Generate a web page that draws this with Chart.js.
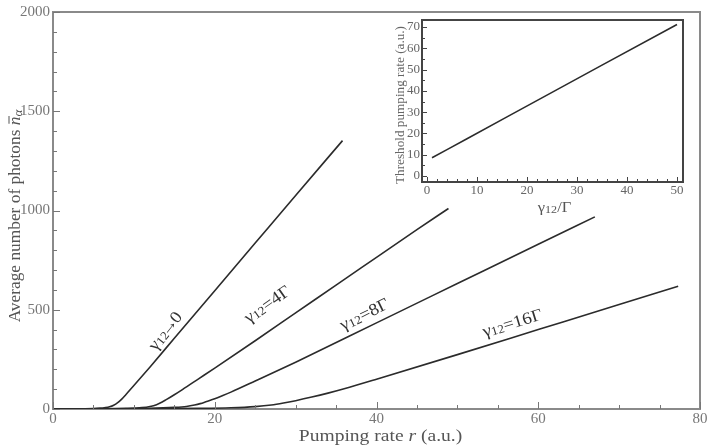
<!DOCTYPE html>
<html><head><meta charset="utf-8">
<script src="https://cdn.jsdelivr.net/npm/chart.js@4.4.1/dist/chart.umd.min.js"></script>
<style>
html,body{margin:0;padding:0;background:#fff;}
#wrap{position:relative;width:710px;height:447px;overflow:hidden;}
#main{position:absolute;left:0;top:0;}
#inset{position:absolute;left:380px;top:10px;}
</style></head><body>
<div id="wrap"><canvas id="main" width="710" height="447"></canvas><canvas id="inset" width="320" height="215"></canvas></div>
<script>
// ---------- data ----------
const rateA    = [0, 3, 5, 6, 6.5, 7, 7.5, 8, 8.5, 9, 10, 12, 15, 20, 25, 30, 35.8];
const photonsA = [0, 1, 2, 5, 7, 11, 19, 32, 50, 72, 118, 212, 356, 596, 836, 1076, 1352];

const rateB    = [0, 5, 9, 11, 12, 12.8, 13.5, 14, 15, 16, 18, 20, 25, 30, 35, 40, 45, 48.9];
const photonsB = [0, 1, 3, 7, 13, 22, 35, 47, 72, 98, 152, 206, 344, 484, 624, 764, 904, 1010];

const rateC    = [0, 8, 12, 15, 16.5, 17.5, 18.2, 19, 20, 21, 22, 25, 30, 40, 50, 60, 67];
const photonsC = [0, 1, 3, 8, 13, 20, 27, 38, 52, 68, 85, 141, 236, 434, 632, 830, 968];

const rateD    = [0, 10, 18, 22, 25, 27, 28.5, 30, 32, 34, 36, 40, 50, 60, 70, 77.3];
const photonsD = [0, 1, 3, 6, 12, 20, 30, 42, 60, 80, 102, 150, 274, 400, 526, 618];

const insetGamma     = [1, 4, 8, 16, 25, 35, 50];
const insetThreshold = [8.6, 12.4, 17.5, 27.8, 39.3, 52.1, 71.2];

const xTicksMain  = [0, 20, 40, 60, 80];
const yTicksMain  = [0, 500, 1000, 1500, 2000];
const xTicksInset = [0, 10, 20, 30, 40, 50];
const yTicksInset = [0, 10, 20, 30, 40, 50, 60, 70];

// curve labels: [suffix pieces after γ12, anchor rate, anchor photons, angle in degrees]
const curveLabels = [
  [['→', '0'], 13.9, 392, 52],
  [['=4Γ'], 26.5, 527, 35],
  [['=8Γ'], 38.5, 476, 26],
  [['=16Γ'], 56.8, 432, 17]
];

const SERIF = '"Liberation Serif", "Times New Roman", serif';
const toXY = (xs, ys) => xs.map((x, i) => ({x, y: ys[i]}));

function drawRich(ctx, parts, cx, cy, angleRad, stretch, color, base) {
  ctx.save();
  ctx.translate(cx, cy);
  ctx.rotate(angleRad);
  ctx.scale(stretch, 1);
  ctx.fillStyle = color; ctx.strokeStyle = color;
  ctx.textBaseline = 'alphabetic'; ctx.textAlign = 'left';
  let total = 0;
  parts.forEach(p => {
    ctx.font = p.font;
    const m = ctx.measureText(p.t);
    p.w = p.tight ? (m.actualBoundingBoxRight + m.actualBoundingBoxLeft + 1) : m.width;
    p.off = p.tight ? m.actualBoundingBoxLeft : 0;
    total += p.w;
  });
  let x = -total / 2;
  parts.forEach(p => {
    ctx.font = p.font;
    ctx.fillText(p.t, x + p.off, base + (p.dy || 0));
    if (p.bar) {
      ctx.lineWidth = 1;
      ctx.beginPath(); ctx.moveTo(x + 1.5, base - p.bar); ctx.lineTo(x + p.w + 0.5, base - p.bar); ctx.stroke();
    }
    x += p.w;
  });
  ctx.restore();
}

const fixedTicks = (arr) => (scale) => { scale.ticks = arr.map(v => ({value: v})); };
const plainLabel = v => String(v);

// ---------- main chart ----------
const mainDecor = {
  id: 'mainDecor',
  afterDraw(chart) {
    const ctx = chart.ctx, a = chart.chartArea, xs = chart.scales.x, ys = chart.scales.y;
    ctx.save();
    ctx.strokeStyle = '#8a8a8a'; ctx.lineWidth = 2;
    ctx.beginPath();
    ctx.moveTo(a.left, a.top); ctx.lineTo(a.right, a.top); ctx.lineTo(a.right, a.bottom);
    ctx.stroke();
    ctx.lineWidth = 1; ctx.strokeStyle = '#777';
    ctx.beginPath();
    for (let v = 0; v <= 80; v += 5) {
      const px = Math.round(xs.getPixelForValue(v)) + 0.5;
      const len = v % 20 === 0 ? 7 : 4;
      ctx.moveTo(px, a.bottom); ctx.lineTo(px, a.bottom - len);
    }
    for (let v = 0; v <= 2000; v += 100) {
      const py = Math.round(ys.getPixelForValue(v)) + 0.5;
      const len = v % 500 === 0 ? 7 : 4;
      ctx.moveTo(a.left, py); ctx.lineTo(a.left + len, py);
    }
    ctx.stroke();
    ctx.restore();

    // axis titles
    drawRich(ctx, [
      {t: 'Pumping rate ', font: '17px ' + SERIF},
      {t: 'r', font: 'italic 17px ' + SERIF},
      {t: ' (a.u.)', font: '17px ' + SERIF}
    ], (a.left + a.right) / 2 + 4, 436, 0, 1.15, '#555', 5);
    drawRich(ctx, [
      {t: 'Average number of photons ', font: '17px ' + SERIF},
      {t: 'n', font: 'italic 17px ' + SERIF, bar: 11},
      {t: 'α', font: 'italic 13px ' + SERIF, dy: 2}
    ], 15, 216, -Math.PI / 2, 1.02, '#555', 5);

    // curve labels
    curveLabels.forEach(([suffix, rx, ry, deg]) => {
      const parts = [
        {t: 'γ', font: '17px ' + SERIF},
        {t: '12', font: '12px ' + SERIF, dy: 1}
      ];
      suffix.forEach(s => parts.push({t: s, font: '17px ' + SERIF, tight: s === '→'}));
      drawRich(ctx, parts, xs.getPixelForValue(rx), ys.getPixelForValue(ry), -deg * Math.PI / 180, 1.1, '#333', 5);
    });
  }
};

new Chart(document.getElementById('main'), {
  type: 'line',
  data: {
    datasets: [
      {label: 'γ12→0',  data: toXY(rateA, photonsA)},
      {label: 'γ12=4Γ', data: toXY(rateB, photonsB)},
      {label: 'γ12=8Γ', data: toXY(rateC, photonsC)},
      {label: 'γ12=16Γ', data: toXY(rateD, photonsD)}
    ].map(d => Object.assign(d, {borderColor: '#2b2b2b', borderWidth: 1.6, pointRadius: 0,
      cubicInterpolationMode: 'monotone', fill: false}))
  },
  options: {
    responsive: false, animation: false, devicePixelRatio: 1,
    layout: {padding: {top: 8, right: 10, left: 0, bottom: 0}},
    plugins: {legend: {display: false}, tooltip: {enabled: false}},
    scales: {
      x: {
        type: 'linear', min: 0, max: 80,
        afterBuildTicks: fixedTicks(xTicksMain),
        afterFit: s => { s.height = 38; },
        grid: {display: false, drawTicks: false},
        border: {display: true, color: '#8a8a8a', width: 2},
        ticks: {color: '#777', font: {family: SERIF, size: 15}, padding: 1, maxRotation: 0, autoSkip: false, callback: plainLabel}
      },
      y: {
        type: 'linear', min: 0, max: 2000,
        afterBuildTicks: fixedTicks(yTicksMain),
        afterFit: s => { s.width = 53; },
        grid: {display: false, drawTicks: false},
        border: {display: true, color: '#8a8a8a', width: 2},
        ticks: {color: '#777', font: {family: SERIF, size: 15}, padding: 3, autoSkip: false, callback: plainLabel}
      }
    }
  },
  plugins: [mainDecor]
});

// ---------- inset chart ----------
const insetDecor = {
  id: 'insetDecor',
  afterDraw(chart) {
    const ctx = chart.ctx, a = chart.chartArea, xs = chart.scales.x, ys = chart.scales.y;
    ctx.save();
    ctx.strokeStyle = '#444'; ctx.lineWidth = 2;
    ctx.strokeRect(a.left, a.top, a.right - a.left, a.bottom - a.top);
    ctx.lineWidth = 1;
    ctx.beginPath();
    for (let v = 0; v <= 50; v += 2) {
      const px = Math.round(xs.getPixelForValue(v)) + 0.5;
      const len = v % 10 === 0 ? 5 : 3;
      ctx.moveTo(px, a.bottom); ctx.lineTo(px, a.bottom - len);
    }
    for (let v = 0; v <= 70; v += 5) {
      const py = Math.round(ys.getPixelForValue(v)) + 0.5;
      const len = v % 10 === 0 ? 5 : 3;
      ctx.moveTo(a.left, py); ctx.lineTo(a.left + len, py);
    }
    ctx.stroke();
    ctx.restore();
    drawRich(ctx, [{t: 'Threshold pumping rate (a.u.)', font: '12px ' + SERIF}],
      20, (a.top + a.bottom) / 2 + 4, -Math.PI / 2, 1.1, '#666', 4);
    drawRich(ctx, [
      {t: 'γ', font: '15px ' + SERIF},
      {t: '12', font: '11px ' + SERIF, dy: 1},
      {t: '/Γ', font: '15px ' + SERIF}
    ], (a.left + a.right) / 2 + 2, 197, 0, 1.1, '#555', 5);
  }
};

new Chart(document.getElementById('inset'), {
  type: 'line',
  data: {
    datasets: [{label: 'Threshold', data: toXY(insetGamma, insetThreshold),
      borderColor: '#2b2b2b', borderWidth: 1.6, pointRadius: 0, fill: false}]
  },
  options: {
    responsive: false, animation: false, devicePixelRatio: 1,
    layout: {padding: {top: 10, right: 17, left: 0, bottom: 0}},
    plugins: {legend: {display: false}, tooltip: {enabled: false}},
    scales: {
      x: {
        type: 'linear', min: -1, max: 51.2,
        afterBuildTicks: fixedTicks(xTicksInset),
        afterFit: s => { s.height = 43; },
        grid: {display: false, drawTicks: false},
        border: {display: false},
        ticks: {color: '#666', font: {family: SERIF, size: 13}, padding: 1, maxRotation: 0, autoSkip: false, callback: plainLabel}
      },
      y: {
        type: 'linear', min: -2.8, max: 73.3,
        afterBuildTicks: fixedTicks(yTicksInset),
        afterFit: s => { s.width = 42; },
        grid: {display: false, drawTicks: false},
        border: {display: false},
        ticks: {color: '#666', font: {family: SERIF, size: 13}, padding: 2, autoSkip: false, callback: plainLabel}
      }
    }
  },
  plugins: [insetDecor]
});
</script>
</body></html>
